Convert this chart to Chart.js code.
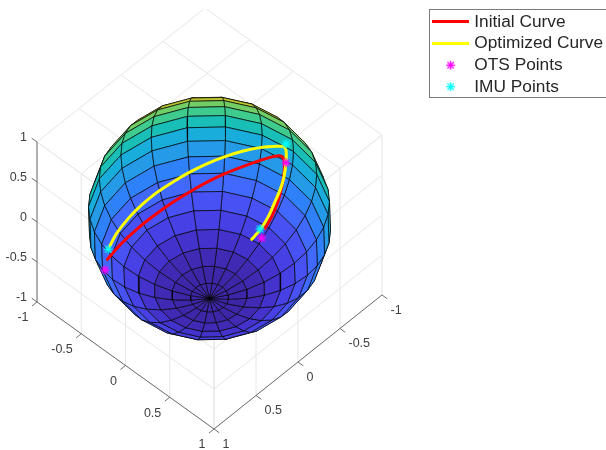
<!DOCTYPE html>
<html>
<head>
<meta charset="utf-8">
<title>Sphere curves</title>
<script src="https://cdn.jsdelivr.net/npm/chart.js@4"></script>
<style>
  html, body { margin: 0; padding: 0; background: #fff; }
  canvas { display: block; }
</style>
</head>
<body>
<canvas id="sphereChart" width="606" height="450"></canvas>
<script>
// Axis ticks, same on all three axes
const tickValues = [-1, -0.5, 0, 0.5, 1];
const tickLabels = ["-1", "-0.5", "0", "0.5", "1"];

// Sphere mesh (degrees), 20 x 20 faces
const sphereLat = [-90, -81, -72, -63, -54, -45, -36, -27, -18, -9, 0, 9, 18, 27, 36, 45, 54, 63, 72, 81, 90];
const sphereLon = [-180, -162, -144, -126, -108, -90, -72, -54, -36, -18, 0, 18, 36, 54, 72, 90, 108, 126, 144, 162, 180];

// Curves and points in view-plane units (sphere radius = 1)
const initialH = [-0.837, -0.734, -0.597, -0.460, -0.310, -0.146, 0.004, 0.127, 0.277, 0.428, 0.523, 0.583, 0.611, 0.611, 0.592, 0.556, 0.510, 0.455];
const initialV = [-0.335, -0.217, -0.089, 0.020, 0.127, 0.228, 0.310, 0.368, 0.427, 0.480, 0.507, 0.512, 0.480, 0.370, 0.261, 0.124, 0.015, -0.081];
const optimizedH = [-0.824, -0.761, -0.665, -0.556, -0.433, -0.296, -0.173, -0.023, 0.127, 0.277, 0.428, 0.551, 0.605, 0.627, 0.627, 0.611, 0.583, 0.537, 0.482, 0.414, 0.346];
const optimizedV = [-0.239, -0.122, 0.001, 0.111, 0.212, 0.302, 0.374, 0.448, 0.507, 0.553, 0.583, 0.592, 0.589, 0.561, 0.466, 0.343, 0.247, 0.138, 0.015, -0.094, -0.171];
const otsH = [-0.857, 0.627, 0.428];
const otsV = [-0.422, 0.457, -0.160];
const imuH = [-0.830, 0.627, 0.414];
const imuV = [-0.252, 0.611, -0.086];

// parula colormap
const parula = [
  [0.2422,0.1504,0.6603],[0.2504,0.1650,0.7076],[0.2578,0.1818,0.7511],[0.2647,0.1978,0.7952],
  [0.2706,0.2147,0.8364],[0.2751,0.2342,0.8710],[0.2783,0.2559,0.8991],[0.2803,0.2782,0.9221],
  [0.2813,0.3006,0.9414],[0.2810,0.3228,0.9579],[0.2795,0.3447,0.9717],[0.2760,0.3667,0.9829],
  [0.2699,0.3892,0.9906],[0.2602,0.4123,0.9952],[0.2440,0.4358,0.9988],[0.2206,0.4603,0.9973],
  [0.1963,0.4847,0.9892],[0.1834,0.5074,0.9798],[0.1786,0.5289,0.9682],[0.1764,0.5499,0.9520],
  [0.1687,0.5703,0.9359],[0.1540,0.5902,0.9218],[0.1460,0.6091,0.9079],[0.1380,0.6276,0.8973],
  [0.1248,0.6459,0.8883],[0.1113,0.6635,0.8763],[0.0952,0.6798,0.8598],[0.0689,0.6948,0.8394],
  [0.0297,0.7082,0.8163],[0.0036,0.7203,0.7917],[0.0067,0.7312,0.7660],[0.0433,0.7411,0.7394],
  [0.0964,0.7500,0.7120],[0.1408,0.7584,0.6842],[0.1717,0.7670,0.6554],[0.1938,0.7758,0.6251],
  [0.2161,0.7843,0.5923],[0.2470,0.7918,0.5567],[0.2906,0.7973,0.5188],[0.3406,0.8008,0.4789],
  [0.3909,0.8029,0.4354],[0.4456,0.8024,0.3909],[0.5044,0.7993,0.3480],[0.5616,0.7942,0.3045],
  [0.6174,0.7876,0.2612],[0.6720,0.7793,0.2227],[0.7242,0.7698,0.1910],[0.7738,0.7598,0.1646],
  [0.8203,0.7498,0.1535],[0.8634,0.7406,0.1596],[0.9035,0.7330,0.1774],[0.9393,0.7288,0.2100],
  [0.9728,0.7298,0.2394],[0.9956,0.7434,0.2371],[0.9970,0.7659,0.2199],[0.9952,0.7893,0.2028],
  [0.9892,0.8136,0.1885],[0.9786,0.8386,0.1766],[0.9676,0.8639,0.1643],[0.9610,0.8890,0.1537],
  [0.9597,0.9135,0.1423],[0.9628,0.9373,0.1265],[0.9691,0.9606,0.1064],[0.9769,0.9839,0.0805]
];

// 3D view: unit vectors of the x, y, z axes on the view plane, and direction to the camera
const viewH = [0.7254, -0.6885, 0];
const viewV = [-0.5205, -0.5492, 0.6557];
const viewN = [-0.451, -0.475, -0.756];

// Where the sphere centre sits in the picture, and pixels per view unit
const centerX = 209.5, centerY = 218.5, pxPerUnit = 122;

function project(x, y, z) {
  return {
    x: viewH[0] * x + viewH[1] * y + viewH[2] * z,
    y: viewV[0] * x + viewV[1] * y + viewV[2] * z
  };
}

function zip(h, v) {
  return h.map((val, i) => ({ x: val, y: v[i] }));
}

function parulaColor(z) {
  const idx = Math.min(63, Math.floor((z + 1) / 2 * 64));
  const c = parula[idx];
  return "rgb(" + c.map(n => Math.round(n * 255)).join(",") + ")";
}

function spherePoint(lat, lon) {
  const la = lat * Math.PI / 180, lo = lon * Math.PI / 180;
  return [Math.cos(la) * Math.cos(lo), Math.cos(la) * Math.sin(lo), Math.sin(la)];
}

function facing(p) {
  return viewN[0] * p[0] + viewN[1] * p[1] + viewN[2] * p[2];
}

// Faces of the sphere, nearest first because the first dataset is drawn last
function buildFaces() {
  const faces = [];
  for (let i = 0; i < sphereLat.length - 1; i++) {
    for (let j = 0; j < sphereLon.length - 1; j++) {
      const corners = [
        spherePoint(sphereLat[i], sphereLon[j]),
        spherePoint(sphereLat[i], sphereLon[j + 1]),
        spherePoint(sphereLat[i + 1], sphereLon[j + 1]),
        spherePoint(sphereLat[i + 1], sphereLon[j])
      ];
      const depths = corners.map(facing);
      if (Math.max(...depths) <= 0) continue;
      faces.push({
        depth: depths.reduce((a, b) => a + b, 0) / 4,
        points: corners.concat([corners[0]]).map(p => project(p[0], p[1], p[2])),
        color: parulaColor(Math.sin(sphereLat[i] * Math.PI / 180))
      });
    }
  }
  faces.sort((a, b) => b.depth - a.depth);
  return faces.map(f => ({
    data: f.points,
    showLine: true,
    fill: "shape",
    backgroundColor: f.color,
    borderColor: "rgba(0,0,0,0.85)",
    borderWidth: 0.8,
    pointRadius: 0,
    order: 10
  }));
}

function lineSet(from, to, color, width, order) {
  return {
    data: [project(from[0], from[1], from[2]), project(to[0], to[1], to[2])],
    showLine: true,
    borderColor: color,
    borderWidth: width,
    pointRadius: 0,
    order: order
  };
}

// Grid on the three back planes: z = 1, x = 1, y = 1
function buildGrid() {
  const sets = [];
  const c = "#e6e6e6";
  tickValues.forEach(t => {
    sets.push(lineSet([t, -1, 1], [t, 1, 1], c, 1, 20));
    sets.push(lineSet([-1, t, 1], [1, t, 1], c, 1, 20));
    sets.push(lineSet([1, t, -1], [1, t, 1], c, 1, 20));
    sets.push(lineSet([1, -1, t], [1, 1, t], c, 1, 20));
    sets.push(lineSet([t, 1, -1], [t, 1, 1], c, 1, 20));
    sets.push(lineSet([-1, 1, t], [1, 1, t], c, 1, 20));
  });
  return sets;
}

function buildAxes() {
  const c = "#6e6e6e";
  const sets = [
    lineSet([-1, 1, -1], [-1, 1, 1], c, 1, 15),
    lineSet([-1, 1, -1], [1, 1, -1], c, 1, 15),
    lineSet([1, -1, -1], [1, 1, -1], c, 1, 15)
  ];
  tickValues.forEach(t => {
    sets.push(lineSet([-1, 1, t], [-1.06, 1, t], c, 1, 15));
    sets.push(lineSet([t, 1, -1], [t, 1.06, -1], c, 1, 15));
    sets.push(lineSet([1, t, -1], [1.06, t, -1], c, 1, 15));
  });
  return sets;
}

// Marker and legend sample images
function starImage(color) {
  const cv = document.createElement("canvas");
  cv.width = 11; cv.height = 11;
  const g = cv.getContext("2d");
  g.strokeStyle = color;
  g.lineWidth = 1.3;
  g.translate(5.5, 5.5);
  for (let i = 0; i < 4; i++) {
    g.rotate(Math.PI / 4);
    g.beginPath();
    g.moveTo(-4.5, 0);
    g.lineTo(4.5, 0);
    g.stroke();
  }
  return cv;
}

function lineImage(color) {
  const cv = document.createElement("canvas");
  cv.width = 37; cv.height = 3;
  const g = cv.getContext("2d");
  g.fillStyle = color;
  g.fillRect(0, 0, 37, 3);
  return cv;
}

// Tick labels next to the axes, and the frame round the legend
const axisText = {
  id: "axisText",
  afterDraw(chart) {
    const { ctx, scales } = chart;
    const put = (label, p, dx, dy, align) => {
      ctx.textAlign = align;
      ctx.fillText(label, scales.x.getPixelForValue(p.x) + dx, scales.y.getPixelForValue(p.y) + dy);
    };
    ctx.save();
    ctx.font = "12.5px 'Liberation Sans'";
    ctx.fillStyle = "#404040";
    ctx.textBaseline = "middle";
    tickValues.forEach((t, i) => {
      put(tickLabels[i], project(-1, 1, t), -10, -4, "right");
      put(tickLabels[i], project(t, 1, -1), -8.5, 16, "right");
      put(tickLabels[i], project(1, t, -1), 8.5, 15.5, "left");
    });
    // legend box runs off the right edge of the picture
    ctx.strokeStyle = "#7a7a7a";
    ctx.lineWidth = 1;
    ctx.strokeRect(429.5, 9.5, 190, 88);
    ctx.restore();
  }
};

const curveSets = [
  {
    label: "Initial Curve",
    data: zip(initialH, initialV),
    showLine: true,
    borderColor: "#ff0000",
    borderWidth: 3,
    borderCapStyle: "round",
    borderJoinStyle: "round",
    tension: 0.3,
    pointRadius: 0,
    pointStyle: lineImage("#ff0000"),
    order: 3
  },
  {
    label: "Optimized Curve",
    data: zip(optimizedH, optimizedV),
    showLine: true,
    borderColor: "#ffff00",
    borderWidth: 3,
    borderCapStyle: "round",
    borderJoinStyle: "round",
    tension: 0.3,
    pointRadius: 0,
    pointStyle: lineImage("#ffff00"),
    order: 2
  },
  {
    label: "OTS Points",
    data: zip(otsH, otsV),
    pointRadius: 4,
    pointStyle: starImage("#ff00ff"),
    order: 1
  },
  {
    label: "IMU Points",
    data: zip(imuH, imuV),
    pointRadius: 4,
    pointStyle: starImage("#00ffff"),
    order: 0
  }
];

const ctx = document.getElementById("sphereChart").getContext("2d");
const sphereChart = new Chart(ctx, {
  type: "scatter",
  data: {
    datasets: curveSets.concat(buildFaces(), buildAxes(), buildGrid())
  },
  plugins: [axisText],
  options: {
    responsive: false,
    animation: false,
    events: [],
    layout: { padding: { top: 9, right: -7 } },
    scales: {
      x: { display: false, min: -1.7, max: 1.8 },
      y: { display: false, min: -1.8, max: 1.7 }
    },
    plugins: {
      tooltip: { enabled: false },
      legend: {
        position: "right",
        align: "start",
        labels: {
          usePointStyle: true,
          pointStyleWidth: 30,
          boxHeight: 10,
          padding: 4.3,
          color: "#262626",
          font: { family: "'Liberation Sans'", size: 17.3 },
          filter: item => item.datasetIndex < 4,
          sort: (a, b) => a.datasetIndex - b.datasetIndex
        }
      }
    }
  }
});

// Pin the view to the plot area the legend leaves over
const area = sphereChart.chartArea;
const scaleOpts = sphereChart.options.scales;
scaleOpts.x.min = (area.left - centerX) / pxPerUnit;
scaleOpts.x.max = (area.right - centerX) / pxPerUnit;
scaleOpts.y.min = (centerY - area.bottom) / pxPerUnit;
scaleOpts.y.max = (centerY - area.top) / pxPerUnit;
sphereChart.update();
</script>
</body>
</html>
